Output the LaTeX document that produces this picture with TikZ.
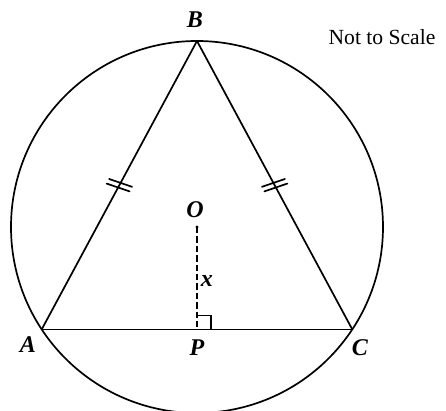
\documentclass[tikz,border=0pt]{standalone}
\usepackage{fontspec}
\setmainfont{Liberation Serif}
\usetikzlibrary{decorations.markings}

\tikzset{
  lbl/.style={font=\fontsize{12}{14}\selectfont\bfseries\itshape},
  equalL/.style={postaction={decorate},decoration={markings,
    mark=at position .5 with {\draw (-.3pt,-6pt) -- (-2.3pt,6pt) (2.3pt,-6pt) -- (.3pt,6pt);}}},
  equalR/.style={postaction={decorate},decoration={markings,
    mark=at position .5 with {\draw (-2.3pt,-6pt) -- (-.3pt,6pt) (.3pt,-6pt) -- (2.3pt,6pt);}}}
}

\begin{document}
\begin{tikzpicture}[x=.5pt,y=.5pt,line width=.85pt,line cap=round]
  \useasboundingbox (-197,-184) rectangle (249,227);
  \coordinate (O) at (0,0);
  \coordinate (B) at (90:186);
  \coordinate (A) at (213.4:186);
  \coordinate (C) at (-33.4:186);
  \coordinate (P) at (0,-102.4);

  \draw (O) circle (186);
  \draw[equalL] (A) -- (B);
  \draw[equalR] (C) -- (B);
  \draw (A) -- (C);
  \draw[dash pattern=on 3.2pt off 1.5pt,line cap=butt] (O) -- (P);
  \draw[line width=.7pt] (P) ++(14,0) -- ++(0,14) -- ++(-14,0);
  \fill (O) circle (1.7);

  \node[lbl] (labB) at (-2,207) {B};
  \node[lbl] (labA) at (-169,-118) {A};
  \node[lbl] (labC) at (163,-121) {C};
  \node[lbl] (labP) at (0,-121) {P};
  \node[lbl] (labO) at (-2,17) {O};
  \node[lbl] (labx) at (10,-54) {x};
  \node[font=\fontsize{10.8}{13}\selectfont] (note) at (185,190) {Not to Scale};
\end{tikzpicture}
\end{document}
